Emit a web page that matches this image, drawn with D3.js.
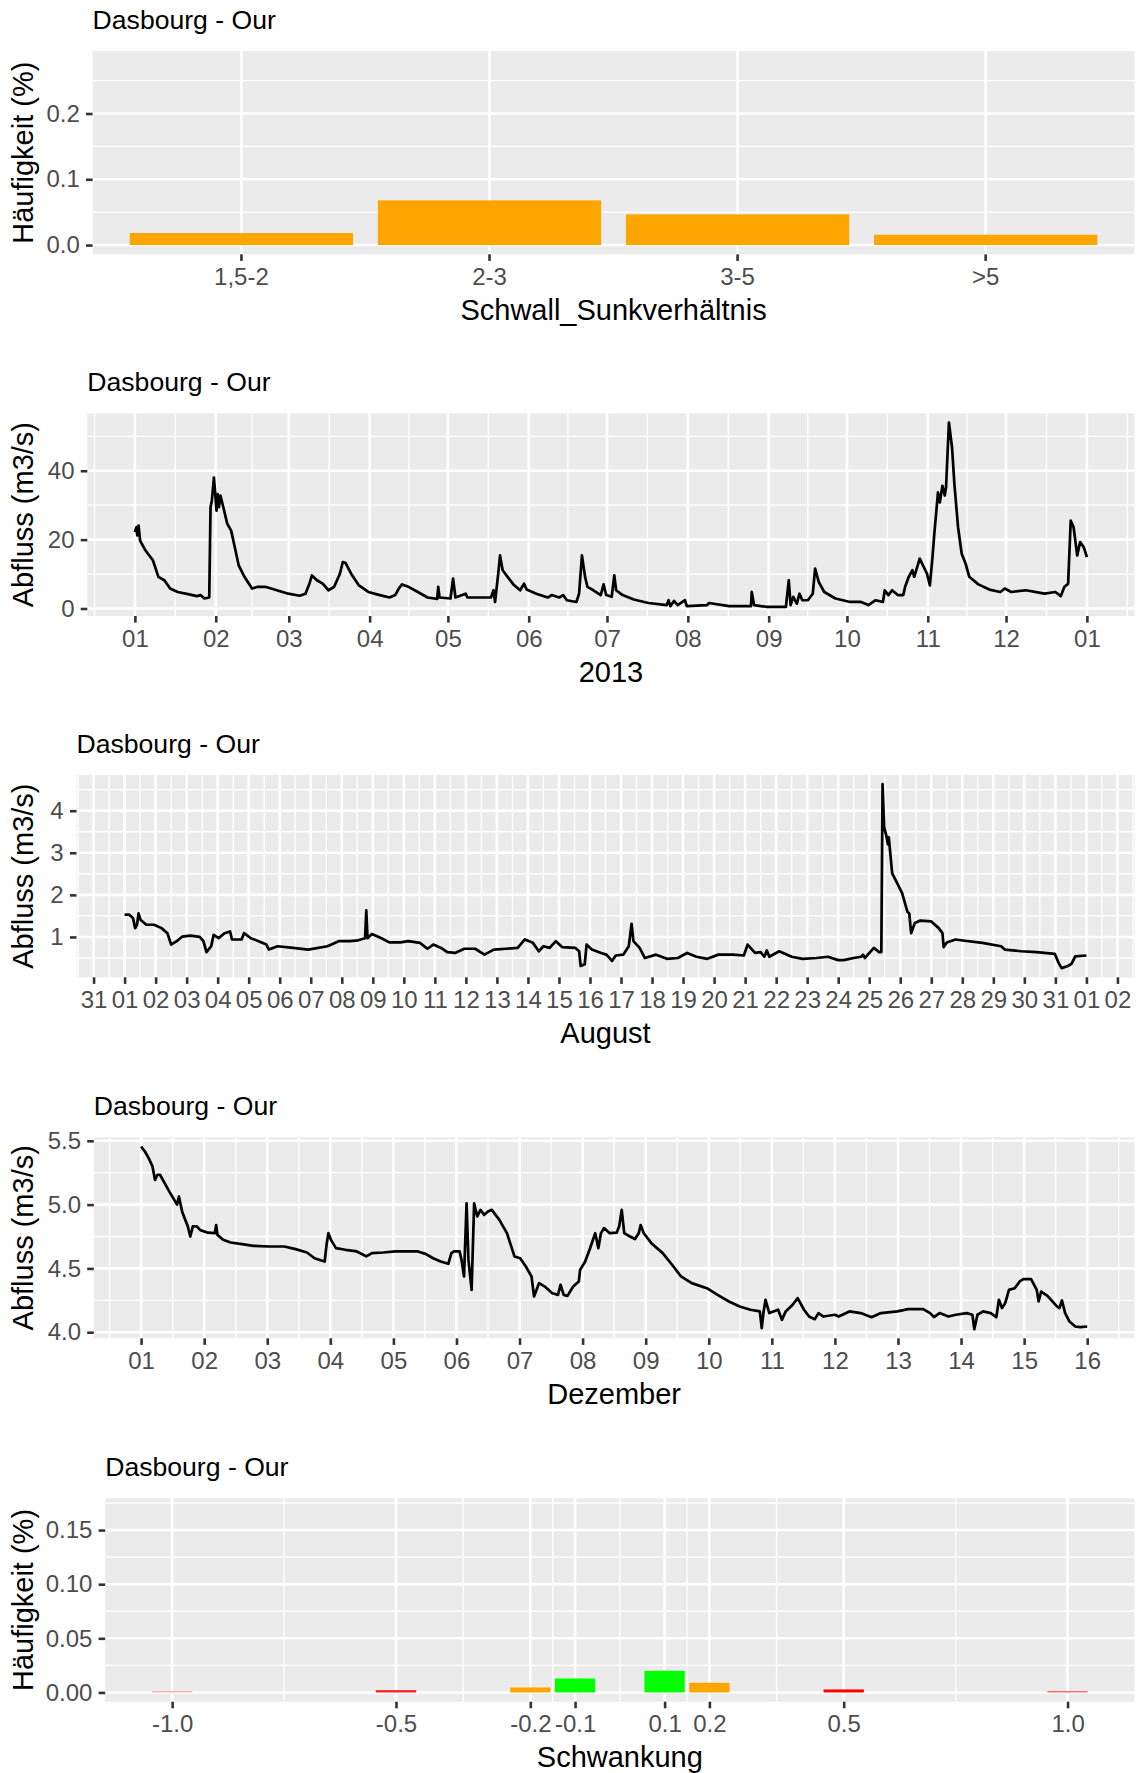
<!DOCTYPE html>
<html>
<head>
<meta charset="utf-8">
<script src="https://cdn.jsdelivr.net/npm/d3@7"></script>
<style>
  body { margin: 0; background: #fff; }
</style>
</head>
<body>
<svg id="chart" width="1136" height="1773"></svg>
<script>
const TITLE = "Dasbourg - Our";

// --- panel 1: Schwall/Sunk ratio classes
const ratioClasses = ["1,5-2", "2-3", "3-5", ">5"];
const ratioFreq = [0.0183, 0.068, 0.0467, 0.0157];
const ratioYTicks = [0, 0.1, 0.2];
const ratioYMax = 0.281;

// --- panel 2: discharge 2013, [days since start, m3/s]
const yearStart = Date.UTC(2013, 0, 1);
const yearFlow = [[0,22.2],[0.6,23.6],[0.9,21.2],[1.4,24.1],[2,19.7],[4,16.9],[6.9,14],[9,9.2],[11.3,8.2],[13.5,5.8],[16.4,4.8],[20.8,4.1],[23.7,3.6],[25.2,3.9],[26.6,2.9],[28.5,3.2],[29,29.4],[29.5,31.3],[30.3,38],[30.7,34.2],[31.3,28.4],[31.7,33.2],[32.2,29.4],[32.8,32.8],[33.9,29.4],[35.4,24.6],[36.9,22.6],[38.3,17.8],[39.8,12.5],[42,9.2],[44.9,5.8],[47.1,6.3],[50,6.3],[54.4,5.3],[58.8,4.3],[63.2,3.7],[65.4,4.3],[66.9,7.2],[67.9,9.6],[69.8,8.2],[72,7.2],[74.2,5.3],[76.4,6.3],[78.6,10.1],[79.7,13.5],[80.8,13.2],[82.9,10.1],[85.9,6.7],[89.5,4.8],[93.9,3.9],[97.6,3.2],[99.8,3.9],[101.2,5.8],[102.4,7],[104.9,6.3],[108.5,4.8],[112.2,3.2],[115.9,2.8],[116.3,6.3],[116.8,3.2],[121,2.9],[122,8.7],[122.9,3.2],[126.8,4.3],[127.5,3.2],[133.4,3.2],[136.5,3.2],[137.5,5.3],[138.1,1.9],[139.3,10.1],[140,15.4],[141,11.1],[142.9,9.2],[145.1,7],[147.7,5.3],[149.2,7.2],[150.2,5.5],[153.9,4.3],[158.3,3.2],[159.8,3.9],[162.7,3.2],[164.2,3.9],[165.6,2.4],[169.3,1.9],[170.3,4.3],[171.4,15.4],[172.6,9.2],[173.5,6.3],[175.8,5.3],[178.6,3.9],[179.7,7],[180.7,3.9],[182.8,3.4],[183.8,9.6],[184.5,5.3],[187,3.9],[191.3,2.6],[196.9,1.6],[203.9,1.0],[204.6,2.4],[205.3,0.7],[206.7,2.2],[208.1,1.0],[210.9,2.4],[211.6,0.7],[219.4,1.0],[220.1,1.6],[227.8,0.7],[236.2,0.7],[236.5,4.8],[237.4,1.0],[241.9,0.5],[249.6,0.5],[250.7,8.2],[251.4,1.0],[252.4,3.4],[253.8,1.4],[254.8,4.3],[255.9,2.4],[258,2.4],[259.9,4.3],[260.8,11.6],[262.2,7.7],[264.3,4.8],[268.6,2.9],[274.2,1.9],[278.4,1.9],[281.2,1.0],[284,2.4],[286.8,1.9],[287.5,5.3],[288.9,3.9],[290.3,5.3],[292.5,3.9],[294.6,3.9],[295.3,6.3],[296.7,9.2],[298.1,11.1],[298.8,9.2],[300.9,14.5],[303.7,10.1],[304.8,6.7],[305.8,14.9],[306.5,21.7],[307.9,33.7],[308.6,30.8],[309.6,35.6],[310.5,32.8],[311,35.2],[312.1,54],[313.3,46.7],[314.2,36.1],[315.6,23.6],[317,15.9],[318.5,13],[319.9,9.2],[323.4,7],[327.6,5.5],[331.8,4.8],[333.5,5.8],[336,4.8],[341.6,5.3],[348.7,4.3],[352.9,4.8],[355,3.6],[356.4,6.3],[357.8,7.2],[358.8,25.5],[359.9,23.6],[361.3,15.4],[362.4,19.3],[363.8,17.8],[365,14.9]];
const yearYTicks = [0, 20, 40];

// --- panel 3: discharge August
const augStart = Date.UTC(2013, 7, 1);
const augFlow = [[0,1.53],[0.15,1.53],[0.27,1.45],[0.34,1.21],[0.4,1.29],[0.45,1.56],[0.51,1.41],[0.7,1.29],[0.95,1.29],[1.19,1.21],[1.38,1.09],[1.5,0.82],[1.68,0.9],[1.86,1.01],[2.11,1.03],[2.42,1.0],[2.54,0.9],[2.64,0.64],[2.79,0.78],[2.87,1.05],[3.03,0.97],[3.22,1.09],[3.4,1.13],[3.46,0.94],[3.77,0.94],[3.85,1.09],[4.07,0.97],[4.32,0.9],[4.57,0.82],[4.65,0.7],[4.93,0.78],[5.43,0.74],[5.92,0.7],[6.54,0.78],[6.9,0.9],[7.27,0.9],[7.52,0.92],[7.75,0.97],[7.79,1.63],[7.83,0.97],[7.97,1.07],[8.28,0.97],[8.53,0.87],[8.9,0.87],[9.14,0.9],[9.52,0.86],[9.76,0.72],[9.95,0.82],[10.2,0.74],[10.4,0.64],[10.65,0.62],[10.95,0.72],[11.3,0.72],[11.6,0.58],[11.9,0.7],[12.3,0.72],[12.67,0.74],[12.9,0.94],[13.16,0.86],[13.35,0.66],[13.5,0.78],[13.7,0.74],[13.9,0.9],[14.1,0.76],[14.53,0.74],[14.65,0.66],[14.7,0.31],[14.83,0.35],[14.89,0.82],[15.06,0.7],[15.36,0.62],[15.53,0.58],[15.71,0.43],[15.83,0.56],[16.07,0.58],[16.25,0.78],[16.34,1.31],[16.4,0.9],[16.6,0.74],[16.77,0.5],[17.13,0.58],[17.48,0.48],[17.83,0.5],[18.13,0.62],[18.43,0.53],[18.78,0.48],[19.14,0.58],[19.61,0.58],[19.96,0.56],[20.08,0.82],[20.32,0.62],[20.5,0.64],[20.62,0.53],[20.7,0.68],[20.78,0.53],[21.1,0.66],[21.5,0.53],[21.85,0.48],[22.3,0.5],[22.67,0.53],[23,0.45],[23.18,0.45],[23.5,0.5],[23.74,0.53],[23.8,0.58],[23.86,0.5],[24.15,0.74],[24.32,0.64],[24.39,0.64],[24.43,4.63],[24.48,3.61],[24.55,3.41],[24.6,3.2],[24.63,3.37],[24.74,2.51],[24.88,2.31],[25.06,2.04],[25.23,1.6],[25.29,1.56],[25.35,1.09],[25.47,1.33],[25.65,1.39],[26,1.37],[26.24,1.21],[26.36,1.09],[26.4,0.76],[26.5,0.87],[26.78,0.94],[27.08,0.91],[27.65,0.86],[28.25,0.78],[28.37,0.7],[28.9,0.66],[29.39,0.64],[29.98,0.6],[30.1,0.39],[30.2,0.26],[30.4,0.31],[30.52,0.36],[30.64,0.54],[31,0.56]];
const augYTicks = [1, 2, 3, 4];

// --- panel 4: discharge December
const decStart = Date.UTC(2013, 11, 1);
const decFlow = [[0,5.456],[0.06,5.416],[0.12,5.364],[0.18,5.3],[0.22,5.194],[0.26,5.234],[0.3,5.234],[0.36,5.18],[0.45,5.1],[0.54,5.025],[0.57,5.0],[0.6,5.064],[0.65,4.946],[0.69,4.894],[0.74,4.83],[0.78,4.75],[0.82,4.83],[0.88,4.83],[0.94,4.8],[1.06,4.78],[1.17,4.776],[1.19,4.84],[1.21,4.763],[1.3,4.724],[1.42,4.703],[1.6,4.69],[1.78,4.677],[2.03,4.672],[2.27,4.672],[2.45,4.651],[2.63,4.625],[2.75,4.58],[2.91,4.554],[2.94,4.685],[2.97,4.776],[3.01,4.724],[3.09,4.659],[3.24,4.646],[3.42,4.633],[3.57,4.594],[3.66,4.62],[3.84,4.625],[4.03,4.633],[4.21,4.633],[4.39,4.633],[4.51,4.614],[4.63,4.58],[4.75,4.554],[4.87,4.536],[4.92,4.62],[4.96,4.633],[5.05,4.633],[5.08,4.567],[5.12,4.437],[5.16,5.01],[5.19,4.567],[5.24,4.332],[5.28,5.01],[5.33,4.907],[5.38,4.959],[5.44,4.92],[5.5,4.946],[5.56,4.959],[5.68,4.881],[5.8,4.776],[5.92,4.594],[6.01,4.58],[6.1,4.515],[6.19,4.437],[6.23,4.28],[6.31,4.385],[6.4,4.358],[6.52,4.306],[6.61,4.293],[6.65,4.372],[6.7,4.293],[6.76,4.285],[6.85,4.358],[6.94,4.398],[6.96,4.489],[7.04,4.554],[7.11,4.646],[7.2,4.776],[7.25,4.659],[7.29,4.776],[7.34,4.816],[7.43,4.776],[7.54,4.78],[7.58,4.83],[7.62,4.959],[7.66,4.776],[7.75,4.75],[7.83,4.73],[7.89,4.776],[7.92,4.84],[7.97,4.776],[8.09,4.698],[8.27,4.62],[8.44,4.515],[8.56,4.437],[8.73,4.385],[8.97,4.345],[9.14,4.293],[9.32,4.241],[9.49,4.202],[9.66,4.176],[9.81,4.163],[9.84,4.032],[9.87,4.163],[9.9,4.254],[9.96,4.15],[10.1,4.176],[10.16,4.097],[10.22,4.163],[10.33,4.215],[10.41,4.267],[10.51,4.176],[10.59,4.123],[10.68,4.102],[10.74,4.15],[10.82,4.123],[11,4.137],[11.06,4.123],[11.23,4.163],[11.41,4.15],[11.58,4.118],[11.73,4.15],[11.99,4.163],[12.16,4.181],[12.4,4.181],[12.51,4.15],[12.57,4.118],[12.66,4.15],[12.8,4.123],[12.92,4.137],[13.09,4.15],[13.18,4.137],[13.21,4.024],[13.26,4.137],[13.35,4.163],[13.47,4.15],[13.56,4.118],[13.6,4.254],[13.65,4.189],[13.7,4.228],[13.76,4.332],[13.85,4.345],[13.93,4.398],[13.99,4.416],[14.11,4.416],[14.2,4.332],[14.23,4.241],[14.27,4.319],[14.37,4.285],[14.52,4.202],[14.56,4.189],[14.6,4.249],[14.65,4.15],[14.72,4.084],[14.81,4.045],[14.89,4.04],[15,4.045]];
const decYTicks = [4.0, 4.5, 5.0, 5.5];

// --- panel 5: Schwankung histogram
const swBreaks = [-1.0, -0.5, -0.2, -0.1, 0.1, 0.2, 0.5, 1.0];
const swFreq = [0.0013, 0.0021, 0.0046, 0.0129, 0.0200, 0.0089, 0.0028, 0.0013];
const swColors = ["#ffaaaa", "#ff1a1a", "#ffa500", "#00ff00", "#00ff00", "#ffa500", "#ff0000", "#ff6666"];
const swBinWidth = 0.09;
const swYTicks = [0, 0.05, 0.10, 0.15];
const swYMax = 0.1708;

// layout
const FONT = "'Liberation Sans', Arial, Helvetica, sans-serif";
const RIGHT = 1134.5;
const frames = [
  { left: 92.6, top: 51, bottom: 254.3 },
  { left: 87.3, top: 413.3, bottom: 616 },
  { left: 76.5, top: 775, bottom: 977.3 },
  { left: 93.8, top: 1137.3, bottom: 1338.3 },
  { left: 105.2, top: 1498.3, bottom: 1701.7 }
];
const TICK = 6.6, GRID_MAJ = 2.6, GRID_MIN = 1.3, LINE_W = 2.7;
const TICK_FS = 24, AXIS_FS = 29, TITLE_FS = 26.6;

const svg = d3.select("#chart");

// ggplot-like 5% expansion (numbers or dates, returned as numbers)
function expand(ext) {
  const a = +ext[0], b = +ext[1], r = b - a;
  return [a - 0.05 * r, b + 0.05 * r];
}

// midpoints between major breaks (one extra break extrapolated on each side)
function minorBreaks(major, dom) {
  const m = major.map(Number);
  const n = m.length;
  const ext = [2 * m[0] - m[1], ...m, 2 * m[n - 1] - m[n - 2]];
  const out = [];
  for (let i = 0; i < ext.length - 1; i++) {
    const v = (ext[i] + ext[i + 1]) / 2;
    if (v >= +dom[0] && v <= +dom[1]) out.push(v);
  }
  return out;
}

function styleAxis(g) {
  g.attr("font-family", FONT).attr("font-size", TICK_FS);
  g.select(".domain").remove();
  g.selectAll(".tick line").attr("stroke", "#333333").attr("stroke-width", GRID_MAJ);
  g.selectAll(".tick text").attr("fill", "#4d4d4d");
}

// background, grid, axes and titles of one panel
function panel(f, o) {
  const g = svg.append("g");
  g.append("rect")
    .attr("x", f.left).attr("y", f.top)
    .attr("width", RIGHT - f.left).attr("height", f.bottom - f.top)
    .attr("fill", "#ebebeb");

  const grid = g.append("g").attr("stroke", "#fff");
  (o.xMinor || []).forEach(v => grid.append("line")
    .attr("x1", o.xPos(v)).attr("x2", o.xPos(v)).attr("y1", f.top).attr("y2", f.bottom)
    .attr("stroke-width", GRID_MIN));
  o.yMinor.forEach(v => grid.append("line")
    .attr("x1", f.left).attr("x2", RIGHT).attr("y1", o.y(v)).attr("y2", o.y(v))
    .attr("stroke-width", GRID_MIN));
  o.xMajor.forEach(v => grid.append("line")
    .attr("x1", o.xPos(v)).attr("x2", o.xPos(v)).attr("y1", f.top).attr("y2", f.bottom)
    .attr("stroke-width", GRID_MAJ));
  o.yMajor.forEach(v => grid.append("line")
    .attr("x1", f.left).attr("x2", RIGHT).attr("y1", o.y(v)).attr("y2", o.y(v))
    .attr("stroke-width", GRID_MAJ));

  const marks = g.append("g");

  g.append("g").attr("transform", `translate(0,${f.bottom})`)
    .call(o.xAxis.tickSizeInner(TICK).tickSizeOuter(0).tickPadding(7.1))
    .call(styleAxis);
  g.append("g").attr("transform", `translate(${f.left},0)`)
    .call(d3.axisLeft(o.y).tickValues(o.yMajor).tickFormat(o.yFmt)
      .tickSizeInner(TICK).tickSizeOuter(0).tickPadding(6.2))
    .call(styleAxis);

  g.append("text").attr("x", f.left).attr("y", f.top - 22)
    .attr("font-family", FONT).attr("font-size", TITLE_FS).attr("fill", "#000")
    .text(TITLE);
  g.append("text").attr("x", (f.left + RIGHT) / 2).attr("y", f.bottom + 65.7)
    .attr("text-anchor", "middle")
    .attr("font-family", FONT).attr("font-size", AXIS_FS).attr("fill", "#000")
    .text(o.xTitle);
  g.append("text")
    .attr("transform", `translate(32.5,${(f.top + f.bottom) / 2}) rotate(-90)`)
    .attr("text-anchor", "middle")
    .attr("font-family", FONT).attr("font-size", AXIS_FS).attr("fill", "#000")
    .text(o.yTitle);
  return marks;
}

// ---------- panel 1: bar chart of ratio classes
(function () {
  const f = frames[0];
  const x = d3.scaleBand().domain(ratioClasses).range([f.left, RIGHT])
    .paddingInner(0.1).paddingOuter(0.15);
  const y = d3.scaleLinear().domain(expand([0, ratioYMax])).range([f.bottom, f.top]);
  const marks = panel(f, {
    xPos: c => x(c) + x.bandwidth() / 2,
    xMajor: ratioClasses,
    y, yMajor: ratioYTicks, yMinor: minorBreaks(ratioYTicks, y.domain()),
    yFmt: d3.format(".1f"),
    xAxis: d3.axisBottom(x),
    xTitle: "Schwall_Sunkverhältnis", yTitle: "Häufigkeit (%)"
  });
  marks.selectAll("rect").data(ratioClasses).join("rect")
    .attr("x", c => x(c)).attr("width", x.bandwidth())
    .attr("y", (c, i) => y(ratioFreq[i]))
    .attr("height", (c, i) => y(0) - y(ratioFreq[i]))
    .attr("fill", "#ffa500");
})();

// ---------- time series panels
function flowPanel(f, start, flow, yTicks, interval, fmt, xTitle, yFmt) {
  const toDate = d => new Date(start + d * 864e5);
  const x = d3.scaleUtc().domain(expand(d3.extent(flow, d => toDate(d[0])))).range([f.left, RIGHT]);
  const y = d3.scaleLinear().domain(expand(d3.extent(flow, d => d[1]))).range([f.bottom, f.top]);
  const dom = x.domain();
  const major = interval.range(interval.ceil(dom[0]), new Date(+dom[1] + 1));
  const marks = panel(f, {
    xPos: v => x(v),
    xMajor: major, xMinor: minorBreaks(major, dom),
    y, yMajor: yTicks, yMinor: minorBreaks(yTicks, y.domain()),
    yFmt,
    xAxis: d3.axisBottom(x).tickValues(major).tickFormat(d3.utcFormat(fmt)),
    xTitle, yTitle: "Abfluss (m3/s)"
  });
  marks.append("path")
    .attr("d", d3.line().x(d => x(toDate(d[0]))).y(d => y(d[1]))(flow))
    .attr("fill", "none").attr("stroke", "#000")
    .attr("stroke-width", LINE_W).attr("stroke-linejoin", "round");
}

flowPanel(frames[1], yearStart, yearFlow, yearYTicks, d3.utcMonth, "%m", "2013", d3.format("d"));
flowPanel(frames[2], augStart, augFlow, augYTicks, d3.utcDay, "%d", "August", d3.format("d"));
flowPanel(frames[3], decStart, decFlow, decYTicks, d3.utcDay, "%d", "Dezember", d3.format(".1f"));

// ---------- panel 5: Schwankung histogram
(function () {
  const f = frames[4];
  const x = d3.scaleLinear()
    .domain(expand([d3.min(swBreaks) - swBinWidth / 2, d3.max(swBreaks) + swBinWidth / 2]))
    .range([f.left, RIGHT]);
  const y = d3.scaleLinear().domain(expand([0, swYMax])).range([f.bottom, f.top]);
  const color = d3.scaleOrdinal().domain(swBreaks).range(swColors);
  const marks = panel(f, {
    xPos: v => x(v),
    xMajor: swBreaks, xMinor: minorBreaks(swBreaks, x.domain()),
    y, yMajor: swYTicks, yMinor: minorBreaks(swYTicks, y.domain()),
    yFmt: d3.format(".2f"),
    xAxis: d3.axisBottom(x).tickValues(swBreaks).tickFormat(v => v.toFixed(1)),
    xTitle: "Schwankung", yTitle: "Häufigkeit (%)"
  });
  marks.selectAll("rect").data(swBreaks).join("rect")
    .attr("x", b => x(b - swBinWidth / 2))
    .attr("width", b => x(b + swBinWidth / 2) - x(b - swBinWidth / 2))
    .attr("y", (b, i) => y(swFreq[i]))
    .attr("height", (b, i) => y(0) - y(swFreq[i]))
    .attr("fill", b => color(b));
})();
</script>
</body>
</html>
